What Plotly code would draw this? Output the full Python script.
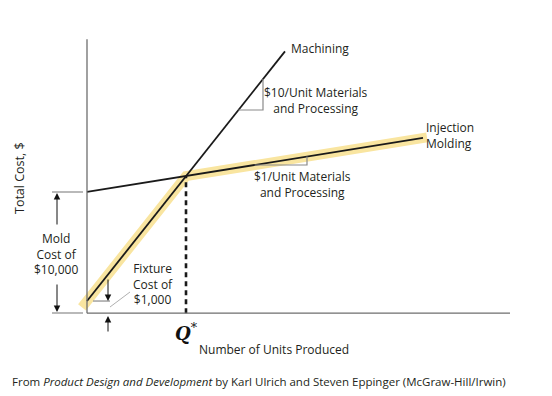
import plotly.graph_objects as go

# ---- data (schematic units) ----
units_machining = [0, 1980]
cost_machining = [1000, 21600]
units_injection = [0, 3360]
cost_injection = [10000, 14460]
highlight_units = [-50, 990, 3400]
highlight_cost = [480, 11300, 14500]
q_star = 990
cost_at_q_star = 11300
mold_cost = 10000
fixture_cost = 1000

X_RANGE = [-150, 4250]
Y_RANGE = [-400, 22700]
OFF = 8  # default page body margin
W, H = 552 - OFF, 396 - OFF
ML, MR, MT, MB = 72 - OFF, 40, 38 - OFF, 78
PW, PH = W - ML - MR, H - MT - MB

def px(xp):
    return (xp - OFF - ML) / PW

def py(yp):
    return (H - MB - (yp - OFF)) / PH

FONT = "Open Sans"
TXT = "#231f20"
LINE = "#1a1a1a"
GRAY = "#8a8a8a"

fig = go.Figure()
fig.add_trace(go.Scatter(x=highlight_units, y=highlight_cost, mode="lines",
                         line=dict(color="rgb(249,229,160)", width=10),
                         hoverinfo="skip", showlegend=False))
fig.add_trace(go.Scatter(x=units_machining, y=cost_machining, mode="lines",
                         line=dict(color=LINE, width=1.8), showlegend=False))
fig.add_trace(go.Scatter(x=units_injection, y=cost_injection, mode="lines",
                         line=dict(color=LINE, width=1.8), showlegend=False))
fig.add_trace(go.Scatter(x=[q_star, q_star], y=[0, cost_at_q_star], mode="lines",
                         line=dict(color=LINE, width=2.6, dash="5px,4px"),
                         showlegend=False))

shapes = []
# axes
shapes.append(dict(type="line", xref="x", yref="y", x0=0, x1=4230, y0=0, y1=0,
                   line=dict(color="#6e6e6e", width=1.3)))
shapes.append(dict(type="line", xref="x", yref="y", x0=0, x1=0, y0=0, y1=22600,
                   line=dict(color="#6e6e6e", width=1.3)))
# slope triangles
shapes.append(dict(type="path", xref="x", yref="y",
                   path="M 1515,16760 L 1760,16760 L 1760,19311",
                   line=dict(color=GRAY, width=1.2)))
shapes.append(dict(type="path", xref="x", yref="y",
                   path="M 1675,12222 L 2200,12222 L 2200,12920",
                   line=dict(color=GRAY, width=1.2)))
# fixture bracket + leader
shapes.append(dict(type="line", xref="x", yref="y", x0=60, x1=230, y0=fixture_cost, y1=fixture_cost,
                   line=dict(color=GRAY, width=1.2)))
shapes.append(dict(type="line", xref="x", yref="y", x0=230, x1=430, y0=507, y1=1745,
                   line=dict(color="#b0b0b0", width=1)))
# mold bracket (left of axis)
shapes.append(dict(type="line", xref="paper", yref="paper", x0=px(52), x1=px(83), y0=py(192), y1=py(192),
                   line=dict(color=GRAY, width=1.2)))
shapes.append(dict(type="line", xref="paper", yref="paper", x0=px(52), x1=px(83), y0=py(313), y1=py(313),
                   line=dict(color=GRAY, width=1.2)))

ann = []
def arrow(x, y, ax, ay, xref="paper", yref="paper"):
    ann.append(dict(x=x, y=y, xref=xref, yref=yref, ax=ax, ay=ay, text="",
                    showarrow=True, arrowhead=2, arrowsize=1.3, arrowwidth=1,
                    arrowcolor="#111", standoff=0))

arrow(px(57), py(193), 0, 33)
arrow(px(57), py(312), 0, -29)
arrow(210, fixture_cost, 0, -23, "x", "y")
arrow(210, -235, 0, 17, "x", "y")

def text(x, y, t, xref="x", yref="y", size=12, xanchor="center", align="center", **kw):
    ann.append(dict(x=x, y=y, xref=xref, yref=yref, text=t, showarrow=False,
                    xanchor=xanchor, yanchor="middle", align=align,
                    font=dict(family=FONT, size=size, color=TXT), **kw))

text(2020, 21875, "Machining", xanchor="left")
text(2290, 17585, "$10/Unit Materials<br>and Processing")
text(2150, 10614, "$1/Unit Materials<br>and Processing")
text(3370, 14616, "Injection<br>Molding", xanchor="left", align="left")
text(660, 2405, "Fixture<br>Cost of<br>$1,000")
text(px(56), py(254), "Mold<br>Cost of<br>$10,000", "paper", "paper")
text(px(274), py(349), "Number of Units Produced", "paper", "paper")
text(px(259), py(381), "From <i>Product Design and Development</i> by Karl Ulrich and Steven Eppinger (McGraw-Hill/Irwin)",
     "paper", "paper", size=11.5)
text(px(19), py(178), "Total Cost, $", "paper", "paper", size=12.5, textangle=-90)
ann.append(dict(x=px(186), y=py(332), xref="paper", yref="paper",
                text="<b><i>Q</i></b><sup>*</sup>", showarrow=False,
                xanchor="center", yanchor="middle",
                font=dict(family="DejaVu Serif", size=18, color="#111")))

fig.update_layout(
    width=W, height=H, margin=dict(l=ML, r=MR, t=MT, b=MB),
    paper_bgcolor="white", plot_bgcolor="white",
    xaxis=dict(range=X_RANGE, visible=False, fixedrange=True),
    yaxis=dict(range=Y_RANGE, visible=False, fixedrange=True),
    shapes=shapes, annotations=ann, showlegend=False,
)
fig.write_html("out.html")
